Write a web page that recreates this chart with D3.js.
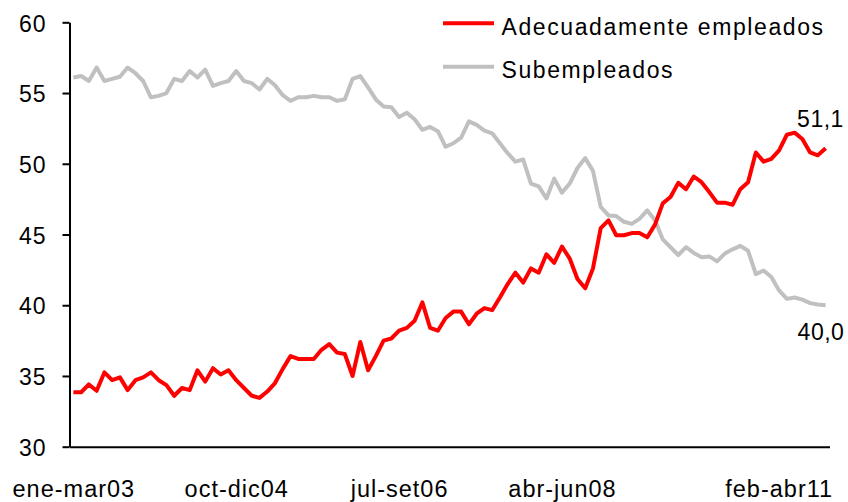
<!DOCTYPE html>
<html>
<head>
<meta charset="utf-8">
<script src="https://cdn.jsdelivr.net/npm/d3@7"></script>
<style>
  body { margin: 0; background: #fff; }
  text { font-family: "Liberation Sans", Arial, sans-serif; fill: #000; }
</style>
</head>
<body>
<div class="chart"></div>
<script>
var width = 848, height = 502

// moving quarters, ene-mar03 ... feb-abr11
var months = ["ene","feb","mar","abr","may","jun","jul","ago","set","oct","nov","dic"]
var startYear = 2003
var nPoints = 98

var xTickLabels = ["ene-mar03", "oct-dic04", "jul-set06", "abr-jun08", "feb-abr11"]
var yTicks = [30, 35, 40, 45, 50, 55, 60]

var seriesNames = ["Adecuadamente empleados", "Subempleados"]
var seriesColors = ["#ff0000", "#c0c0c0"]

var adecuados = [
  33.85, 33.85, 34.4, 33.95, 35.25, 34.7, 34.9, 34.0, 34.7, 34.9,
  35.25, 34.7, 34.35, 33.6, 34.15, 34.0, 35.4, 34.6, 35.55, 35.1,
  35.4, 34.7, 34.15, 33.6, 33.45, 33.9, 34.5, 35.5, 36.4, 36.2,
  36.2, 36.2, 36.85, 37.25, 36.65, 36.55, 35.0, 37.4, 35.4, 36.4,
  37.5, 37.65, 38.2, 38.4, 38.9, 40.2, 38.4, 38.2, 39.1, 39.55,
  39.55, 38.65, 39.4, 39.8, 39.65, 40.55, 41.5, 42.3, 41.6, 42.6,
  42.3, 43.6, 43.0, 44.15, 43.3, 41.85, 41.2, 42.6, 45.45, 46.0,
  44.95, 44.95, 45.1, 45.1, 44.8, 45.7, 47.2, 47.65, 48.65, 48.2,
  49.1, 48.7, 48.0, 47.25, 47.25, 47.1, 48.2, 48.7, 50.8, 50.15,
  50.35, 50.95, 52.05, 52.2, 51.75, 50.8, 50.6, 51.1
]

var subempleados = [
  56.1, 56.2, 55.85, 56.8, 55.85, 56.0, 56.15, 56.8, 56.4, 55.85,
  54.7, 54.8, 55.0, 56.0, 55.85, 56.55, 56.1, 56.65, 55.5, 55.7,
  55.85, 56.55, 55.85, 55.7, 55.25, 56.0, 55.55, 54.85, 54.45, 54.7,
  54.7, 54.8, 54.7, 54.7, 54.45, 54.55, 56.0, 56.2, 55.4, 54.55,
  54.05, 54.0, 53.3, 53.6, 53.15, 52.4, 52.6, 52.3, 51.2, 51.45,
  51.85, 53.0, 52.75, 52.35, 52.15, 51.45, 50.75, 50.15, 50.3, 48.6,
  48.4, 47.55, 48.95, 47.95, 48.6, 49.7, 50.4, 49.5, 46.95, 46.35,
  46.3, 45.9, 45.75, 46.1, 46.7, 46.0, 44.65, 44.1, 43.55, 44.1,
  43.7, 43.4, 43.45, 43.1, 43.65, 43.95, 44.2, 43.85, 42.2, 42.45,
  42.0, 41.05, 40.45, 40.55, 40.4, 40.15, 40.05, 40.0
]

function lineChart() {
    var categories = d3.range(nPoints).map(function(i) {
        var m = i % 12
        var y = startYear + Math.floor((i + 2) / 12)
        return months[m] + "-" + months[(m + 2) % 12] + String(y).slice(2)
    })

    var series = [adecuados, subempleados]

    const svg = d3.select('.chart')
      .append('svg')
        .attr('width', width)
        .attr('height', height)

    var x = d3.scalePoint()
        .domain(categories)
        .range([69.5, 829.5])
        .padding(0.5)

    var y = d3.scaleLinear()
        .domain([30, 60])
        .range([446.7, 22.3])

    // y axis
    var yAxis = svg.append('g')
        .attr('transform', 'translate(69.5,0)')
        .call(d3.axisLeft(y).tickValues(yTicks).tickSize(7).tickSizeOuter(0).tickPadding(16))
    yAxis.select('.domain').attr('stroke', '#000').attr('stroke-width', 2)
    yAxis.selectAll('.tick line').attr('stroke', '#000').attr('stroke-width', 2)
    yAxis.selectAll('.tick text')
        .style('font-size', '23px')
        .style('letter-spacing', '1px')
        .style('font-family', '"Liberation Sans", Arial, sans-serif')
        .attr('dy', '0.38em')

    // x axis, no tick marks
    var xAxis = svg.append('g')
        .attr('transform', 'translate(0,446.7)')
        .call(d3.axisBottom(x).tickValues(xTickLabels).tickSize(0).tickSizeOuter(0).tickPadding(33.5))
    xAxis.select('.domain').attr('stroke', '#000').attr('stroke-width', 2)
    xAxis.selectAll('.tick text')
        .style('font-size', '23.5px')
        .style('font-family', '"Liberation Sans", Arial, sans-serif')
        .style('letter-spacing', '1px')
    // last label is pushed inside the chart like excel does
    xAxis.selectAll('.tick text')
        .filter(function(d) { return d === categories[nPoints - 1] })
        .attr('text-anchor', 'end')
        .attr('x', 7)

    var line = d3.line()
        .x(function(d, i) { return x(categories[i]) })
        .y(function(d) { return y(d) })

    // gray first, red on top
    svg.selectAll('.serie')
      .data([1, 0])
      .enter()
      .append('path')
        .attr('d', function(k) { return line(series[k]) })
        .attr('fill', 'none')
        .attr('stroke', function(k) { return seriesColors[k] })
        .attr('stroke-width', 4)
        .attr('stroke-linejoin', 'round')

    // end value labels
    var last = categories[nPoints - 1]
    svg.append('text')
        .attr('x', x(last) - 28.5)
        .attr('y', y(adecuados[nPoints - 1]) - 21)
        .style('font-size', '23px')
        .style('letter-spacing', '0.5px')
        .text(d3.format('.1f')(adecuados[nPoints - 1]).replace('.', ','))
    svg.append('text')
        .attr('x', x(last) - 28)
        .attr('y', y(subempleados[nPoints - 1]) + 35)
        .style('font-size', '23px')
        .style('letter-spacing', '0.5px')
        .text(d3.format('.1f')(subempleados[nPoints - 1]).replace('.', ','))

    // legend
    var legend = svg.selectAll('.legend')
      .data(seriesNames)
      .enter()
      .append('g')
        .attr('transform', function(d, i) { return 'translate(443,' + (23.3 + i * 43.4) + ')' })
    legend.append('line')
        .attr('x1', 0).attr('x2', 51)
        .attr('stroke', function(d, i) { return seriesColors[i] })
        .attr('stroke-width', 4)
    legend.append('text')
        .attr('x', 58.5)
        .attr('y', 11.5)
        .style('font-size', '23px')
        .style('letter-spacing', '1.6px')
        .text(function(d) { return d })
}
lineChart();
</script>
</body>
</html>
